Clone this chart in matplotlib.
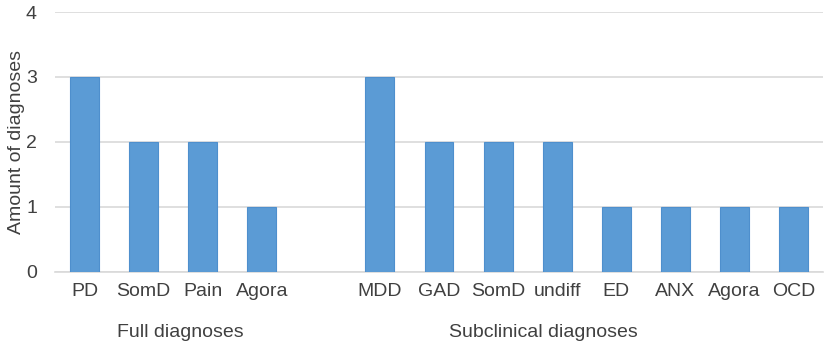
import matplotlib
matplotlib.use("Agg")
import matplotlib.pyplot as plt

categories = ["PD", "SomD", "Pain", "Agora", "", "MDD", "GAD", "SomD", "undiff", "ED", "ANX", "Agora", "OCD"]
values = [3, 2, 2, 1, None, 3, 2, 2, 2, 1, 1, 1, 1]
group_labels = ["Full diagnoses", "Subclinical diagnoses"]
group_pos = [1.62, 7.77]
yticks = [0, 1, 2, 3, 4]

plt.rcParams['font.family'] = ['Liberation Sans', 'DejaVu Sans']
fig = plt.figure(figsize=(8.29, 3.49), dpi=100)
ax = fig.add_axes([0.0663, 0.2215, 0.9265, 0.7441])

xs = [i for i, v in enumerate(values) if v is not None]
vs = [v for v in values if v is not None]
ax.bar(xs, vs, width=0.49, color="#5B9BD5", edgecolor="#4E8FCD", linewidth=0.8, zorder=3)

fs = 14
ax.set_xlim(-0.5, len(categories) - 0.5)
ax.set_ylim(0, 4)
ax.set_yticks(yticks)
ax.set_yticklabels([str(t) for t in yticks])
ax.set_xticks(range(len(categories)))
ax.set_xticklabels(categories)
ax.tick_params(axis='both', length=0, labelsize=fs, colors="#404040")
ax.tick_params(axis='x', pad=8)
ax.tick_params(axis='y', pad=13)
ax.grid(axis='y', color="#D9D9D9", linewidth=1.2, zorder=0)
for s in ["top", "right", "left"]:
    ax.spines[s].set_visible(False)
ax.spines["bottom"].set_color("#D9D9D9")
ax.spines["bottom"].set_linewidth(1.2)
ax.set_ylabel("Amount of diagnoses", fontsize=fs, color="#404040")
ax.yaxis.set_label_coords(-0.039, 0.5)

for lab, p in zip(group_labels, group_pos):
    ax.text(p, -0.93, lab, ha='center', va='center', fontsize=fs, color="#404040",
            transform=ax.transData)

fig.savefig("out.png", dpi=100)
